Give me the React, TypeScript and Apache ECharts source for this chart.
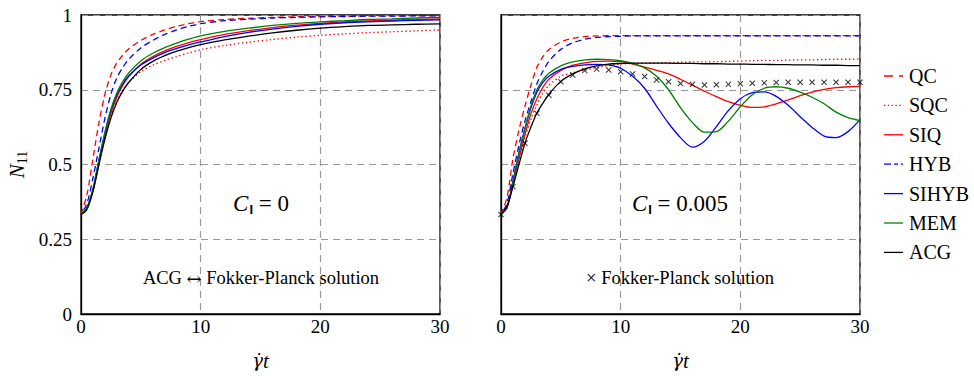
import React, { useEffect, useRef } from 'react';
import * as echarts from 'echarts';

const NAMES = ['QC', 'SQC', 'SIQ', 'HYB', 'SIHYB', 'MEM', 'ACG'];
const X_TICKS = [0, 10, 20, 30];
const Y_TICKS = [0, 0.25, 0.5, 0.75, 1];

// Left panel, C_I = 0
const T_LEFT = [0, 0.5, 1, 1.5, 2, 2.5, 3, 3.5, 4, 5, 6, 7, 8, 9, 10, 12, 14, 16, 18, 20, 22, 24, 26, 28, 30];
const LEFT_QC = [0.333, 0.4, 0.52, 0.64, 0.735, 0.8, 0.84, 0.866, 0.887, 0.915, 0.935, 0.95, 0.962, 0.971, 0.978, 0.985, 0.989, 0.992, 0.994, 0.995, 0.996, 0.997, 0.997, 0.998, 0.998];
const LEFT_SQC = [0.333, 0.355, 0.412, 0.505, 0.59, 0.66, 0.712, 0.748, 0.775, 0.81, 0.832, 0.848, 0.861, 0.873, 0.884, 0.898, 0.909, 0.918, 0.926, 0.932, 0.937, 0.941, 0.944, 0.947, 0.95];
const LEFT_SIQ = [0.333, 0.355, 0.412, 0.505, 0.595, 0.67, 0.725, 0.765, 0.795, 0.835, 0.861, 0.88, 0.895, 0.908, 0.918, 0.935, 0.948, 0.958, 0.966, 0.972, 0.977, 0.98, 0.983, 0.985, 0.987];
const LEFT_HYB = [0.333, 0.37, 0.455, 0.555, 0.655, 0.735, 0.79, 0.825, 0.852, 0.89, 0.915, 0.935, 0.95, 0.962, 0.971, 0.981, 0.986, 0.99, 0.992, 0.994, 0.995, 0.996, 0.996, 0.997, 0.997];
const LEFT_SIHYB = [0.333, 0.355, 0.418, 0.515, 0.605, 0.68, 0.733, 0.77, 0.797, 0.833, 0.856, 0.874, 0.888, 0.9, 0.91, 0.928, 0.942, 0.953, 0.962, 0.969, 0.974, 0.977, 0.98, 0.982, 0.984];
const LEFT_MEM = [0.333, 0.355, 0.418, 0.515, 0.608, 0.685, 0.74, 0.778, 0.807, 0.846, 0.872, 0.891, 0.906, 0.919, 0.93, 0.945, 0.956, 0.965, 0.972, 0.977, 0.981, 0.985, 0.987, 0.99, 0.992];
const LEFT_ACG = [0.333, 0.35, 0.41, 0.5, 0.585, 0.655, 0.708, 0.746, 0.775, 0.818, 0.845, 0.864, 0.879, 0.891, 0.901, 0.917, 0.929, 0.94, 0.949, 0.956, 0.961, 0.965, 0.967, 0.969, 0.97];

// Right panel, C_I = 0.005
const T_RIGHT = [0, 0.5, 1, 1.5, 2, 2.5, 3, 3.5, 4, 5, 6, 7, 8, 9, 10, 11, 12, 13, 14, 15, 16, 17, 18, 19, 20, 21, 22, 23, 24, 25, 26, 27, 28, 29, 30];
const RIGHT_QC = [0.333, 0.39, 0.52, 0.615, 0.695, 0.765, 0.825, 0.86, 0.884, 0.91, 0.922, 0.928, 0.93, 0.931, 0.931, 0.931, 0.931, 0.931, 0.931, 0.931, 0.931, 0.931, 0.931, 0.931, 0.931, 0.931, 0.931, 0.931, 0.931, 0.931, 0.931, 0.931, 0.931, 0.931, 0.931];
const RIGHT_SQC = [0.333, 0.355, 0.43, 0.515, 0.59, 0.652, 0.7, 0.738, 0.765, 0.795, 0.807, 0.816, 0.824, 0.831, 0.836, 0.838, 0.839, 0.84, 0.841, 0.842, 0.843, 0.843, 0.844, 0.845, 0.846, 0.847, 0.848, 0.848, 0.849, 0.85, 0.85, 0.851, 0.852, 0.852, 0.853];
const RIGHT_SIQ = [0.333, 0.355, 0.435, 0.52, 0.6, 0.67, 0.72, 0.758, 0.785, 0.815, 0.832, 0.84, 0.845, 0.846, 0.844, 0.836, 0.826, 0.815, 0.803, 0.785, 0.765, 0.745, 0.727, 0.71, 0.698, 0.691, 0.693, 0.703, 0.716, 0.73, 0.742, 0.751, 0.757, 0.76, 0.761];
const RIGHT_HYB = [0.333, 0.37, 0.47, 0.565, 0.645, 0.71, 0.77, 0.812, 0.845, 0.885, 0.907, 0.919, 0.925, 0.928, 0.929, 0.93, 0.93, 0.93, 0.93, 0.93, 0.93, 0.93, 0.93, 0.93, 0.93, 0.93, 0.93, 0.93, 0.93, 0.93, 0.93, 0.93, 0.93, 0.93, 0.93];
const RIGHT_SIHYB = [0.333, 0.357, 0.445, 0.54, 0.62, 0.69, 0.742, 0.775, 0.795, 0.818, 0.828, 0.833, 0.835, 0.833, 0.822, 0.795, 0.755, 0.695, 0.638, 0.59, 0.558, 0.578, 0.627, 0.68, 0.72, 0.74, 0.743, 0.728, 0.698, 0.66, 0.624, 0.595, 0.59, 0.61, 0.65];
const RIGHT_MEM = [0.333, 0.355, 0.44, 0.535, 0.62, 0.695, 0.75, 0.783, 0.805, 0.83, 0.843, 0.85, 0.852, 0.851, 0.847, 0.838, 0.823, 0.795, 0.75, 0.69, 0.64, 0.608, 0.61, 0.645, 0.693, 0.733, 0.755, 0.76, 0.755, 0.742, 0.725, 0.703, 0.675, 0.657, 0.647];
const RIGHT_ACG = [0.333, 0.36, 0.426, 0.5, 0.571, 0.625, 0.672, 0.705, 0.735, 0.778, 0.803, 0.82, 0.83, 0.836, 0.838, 0.839, 0.839, 0.839, 0.839, 0.838, 0.838, 0.837, 0.837, 0.836, 0.836, 0.835, 0.835, 0.834, 0.834, 0.833, 0.833, 0.832, 0.832, 0.831, 0.831];

// Fokker-Planck solution (crosses), right panel
const T_FP = [0, 1, 2, 3, 4, 5, 6, 7, 8, 9, 10, 11, 12, 13, 14, 15, 16, 17, 18, 19, 20, 21, 22, 23, 24, 25, 26, 27, 28, 29, 30];
const FP = [0.333, 0.426, 0.571, 0.671, 0.732, 0.777, 0.799, 0.814, 0.819, 0.816, 0.81, 0.803, 0.794, 0.783, 0.777, 0.771, 0.768, 0.766, 0.767, 0.768, 0.77, 0.772, 0.773, 0.774, 0.775, 0.775, 0.775, 0.775, 0.775, 0.775, 0.775];

const LEFT_VALUES = [LEFT_QC, LEFT_SQC, LEFT_SIQ, LEFT_HYB, LEFT_SIHYB, LEFT_MEM, LEFT_ACG];
const RIGHT_VALUES = [RIGHT_QC, RIGHT_SQC, RIGHT_SIQ, RIGHT_HYB, RIGHT_SIHYB, RIGHT_MEM, RIGHT_ACG];

const STYLES: Record<string, { color: string; type: any; offset?: number; legendDash?: number[] }> = {
  QC: { color: '#ff0000', type: [6, 4], legendDash: [9, 6] },
  SQC: { color: '#ff0000', type: [1.4, 2.6], legendDash: [1.4, 2.4] },
  SIQ: { color: '#ff0000', type: 'solid' },
  HYB: { color: '#0000ff', type: [6, 4], offset: 5, legendDash: [7, 3, 4, 3] },
  SIHYB: { color: '#0000ff', type: 'solid' },
  MEM: { color: '#008000', type: 'solid' },
  ACG: { color: '#000000', type: 'solid' },
};

const SERIF = '"Liberation Serif", serif';
const DEJAVU = '"DejaVu Serif", serif';
const LEGEND_TOP = 76;
const LEGEND_STEP = 29.4;

function pairs(t: number[], v: number[]) {
  return t.map((x, i) => [x, v[i]]);
}

function lineSeries(name: string, t: number[], v: number[], idx: number) {
  const s = STYLES[name];
  return {
    type: 'line',
    name,
    xAxisIndex: idx,
    yAxisIndex: idx,
    data: pairs(t, v),
    smooth: 0.3,
    symbol: 'none',
    showSymbol: false,
    lineStyle: { color: s.color, width: 1.3, type: s.type, dashOffset: s.offset || 0 },
    itemStyle: { color: s.color },
    z: 3,
  };
}

function xAxis(idx: number) {
  return {
    type: 'value',
    gridIndex: idx,
    min: X_TICKS[0],
    max: X_TICKS[X_TICKS.length - 1],
    interval: 10,
    axisLine: { show: true, lineStyle: { color: '#000', width: 1.3 } },
    axisTick: { show: false },
    axisLabel: { color: '#000', fontFamily: SERIF, fontSize: 19, margin: 3 },
    splitLine: { show: true, lineStyle: { color: '#999', type: [7, 5], width: 1.2 } },
    name: '{g|γ̇}{t|t}',
    nameLocation: 'middle',
    nameGap: 36,
    nameTextStyle: {
      rich: {
        g: { fontFamily: DEJAVU, fontStyle: 'italic', fontSize: 18, color: '#000' },
        t: { fontFamily: SERIF, fontStyle: 'italic', fontSize: 21, color: '#000' },
      },
    },
  };
}

function yAxis(idx: number) {
  return {
    type: 'value',
    gridIndex: idx,
    min: Y_TICKS[0],
    max: Y_TICKS[Y_TICKS.length - 1],
    interval: 0.25,
    axisLine: { show: true, lineStyle: { color: '#000', width: 1.3 } },
    axisTick: { show: false },
    axisLabel: { show: idx === 0, color: '#000', fontFamily: SERIF, fontSize: 19, margin: 9 },
    splitLine: { show: true, lineStyle: { color: '#999', type: [7, 5], width: 1.2 } },
    name: idx === 0 ? '{i|N}{s|11}' : '',
    nameLocation: 'middle',
    nameGap: 52,
    nameRotate: 90,
    nameTextStyle: {
      rich: {
        i: { fontFamily: SERIF, fontStyle: 'italic', fontSize: 21, color: '#000' },
        s: { fontFamily: SERIF, fontSize: 14, color: '#000', padding: [10, 0, 0, 0] },
      },
    },
  };
}

function ciLabel(x: number, value: string) {
  return {
    type: 'text',
    x,
    y: 203,
    style: {
      text: '{c|C}{s|I}{n| = ' + value + '}',
      align: 'center',
      verticalAlign: 'middle',
      font: '23px ' + SERIF,
      rich: {
        c: { fontFamily: SERIF, fontStyle: 'italic', fontSize: 23, fill: '#000' },
        s: { fontFamily: '"Liberation Sans", sans-serif', fontWeight: 'bold', fontSize: 13, fill: '#000', padding: [12, 0, 0, 1] },
        n: { fontFamily: SERIF, fontSize: 23, fill: '#000' },
      },
    },
    z: 10,
  };
}

function noteLabel(x: number, text: string) {
  return {
    type: 'text',
    x,
    y: 278,
    style: {
      text,
      align: 'center',
      verticalAlign: 'middle',
      font: '18.5px ' + SERIF,
      fill: '#000',
      rich: {
        a: { fontFamily: SERIF, fontSize: 18.5, fill: '#000' },
        r: { fontFamily: DEJAVU, fontSize: 18, fill: '#000' },
      },
    },
    z: 10,
  };
}

function legendItems() {
  const out: any[] = [];
  NAMES.forEach((n, i) => {
    const s = STYLES[n];
    const y = LEGEND_TOP + i * LEGEND_STEP;
    out.push({
      type: 'line',
      shape: { x1: 884, y1: y, x2: 903, y2: y },
      style: { stroke: s.color, lineWidth: 1.3, lineDash: s.legendDash || null },
      z: 10,
    });
    out.push({
      type: 'text',
      x: 909,
      y,
      style: { text: n, align: 'left', verticalAlign: 'middle', font: '20px ' + SERIF, fill: '#000' },
      z: 10,
    });
  });
  return out;
}

export default function App() {
  const ref = useRef<HTMLDivElement>(null);
  useEffect(() => {
    if (!ref.current) return;
    const chart = echarts.init(ref.current, null, { renderer: 'svg' });
    const series: any[] = [];
    NAMES.forEach((n, i) => series.push(lineSeries(n, T_LEFT, LEFT_VALUES[i], 0)));
    NAMES.forEach((n, i) => series.push(lineSeries(n, T_RIGHT, RIGHT_VALUES[i], 1)));
    series.push({
      type: 'scatter',
      name: 'Fokker-Planck solution',
      xAxisIndex: 1,
      yAxisIndex: 1,
      data: pairs(T_FP, FP),
      symbol: 'path://M0,1.2L1.2,0L5,3.8L8.8,0L10,1.2L6.2,5L10,8.8L8.8,10L5,6.2L1.2,10L0,8.8L3.8,5Z',
      symbolSize: 6,
      itemStyle: { color: '#000' },
      z: 4,
    });
    chart.setOption({
      animation: false,
      backgroundColor: '#fff',
      textStyle: { fontFamily: SERIF },
      grid: [
        { left: 81, top: 15, width: 359, height: 299, show: true, borderColor: '#000', borderWidth: 1.3, backgroundColor: 'transparent' },
        { left: 501, top: 15, width: 359, height: 299, show: true, borderColor: '#000', borderWidth: 1.3, backgroundColor: 'transparent' },
      ],
      xAxis: [xAxis(0), xAxis(1)],
      yAxis: [yAxis(0), yAxis(1)],
      graphic: [
        ciLabel(261, '0'),
        ciLabel(680, '0.005'),
        noteLabel(261, '{a|ACG }{r|↔}{a| Fokker-Planck solution}'),
        noteLabel(680, '{a|× Fokker-Planck solution}'),
        ...legendItems(),
      ],
      series,
    });
    return () => chart.dispose();
  }, []);
  return <div ref={ref} style={{ position: 'fixed', left: 0, top: 0, width: 974, height: 376 }} />;
}
